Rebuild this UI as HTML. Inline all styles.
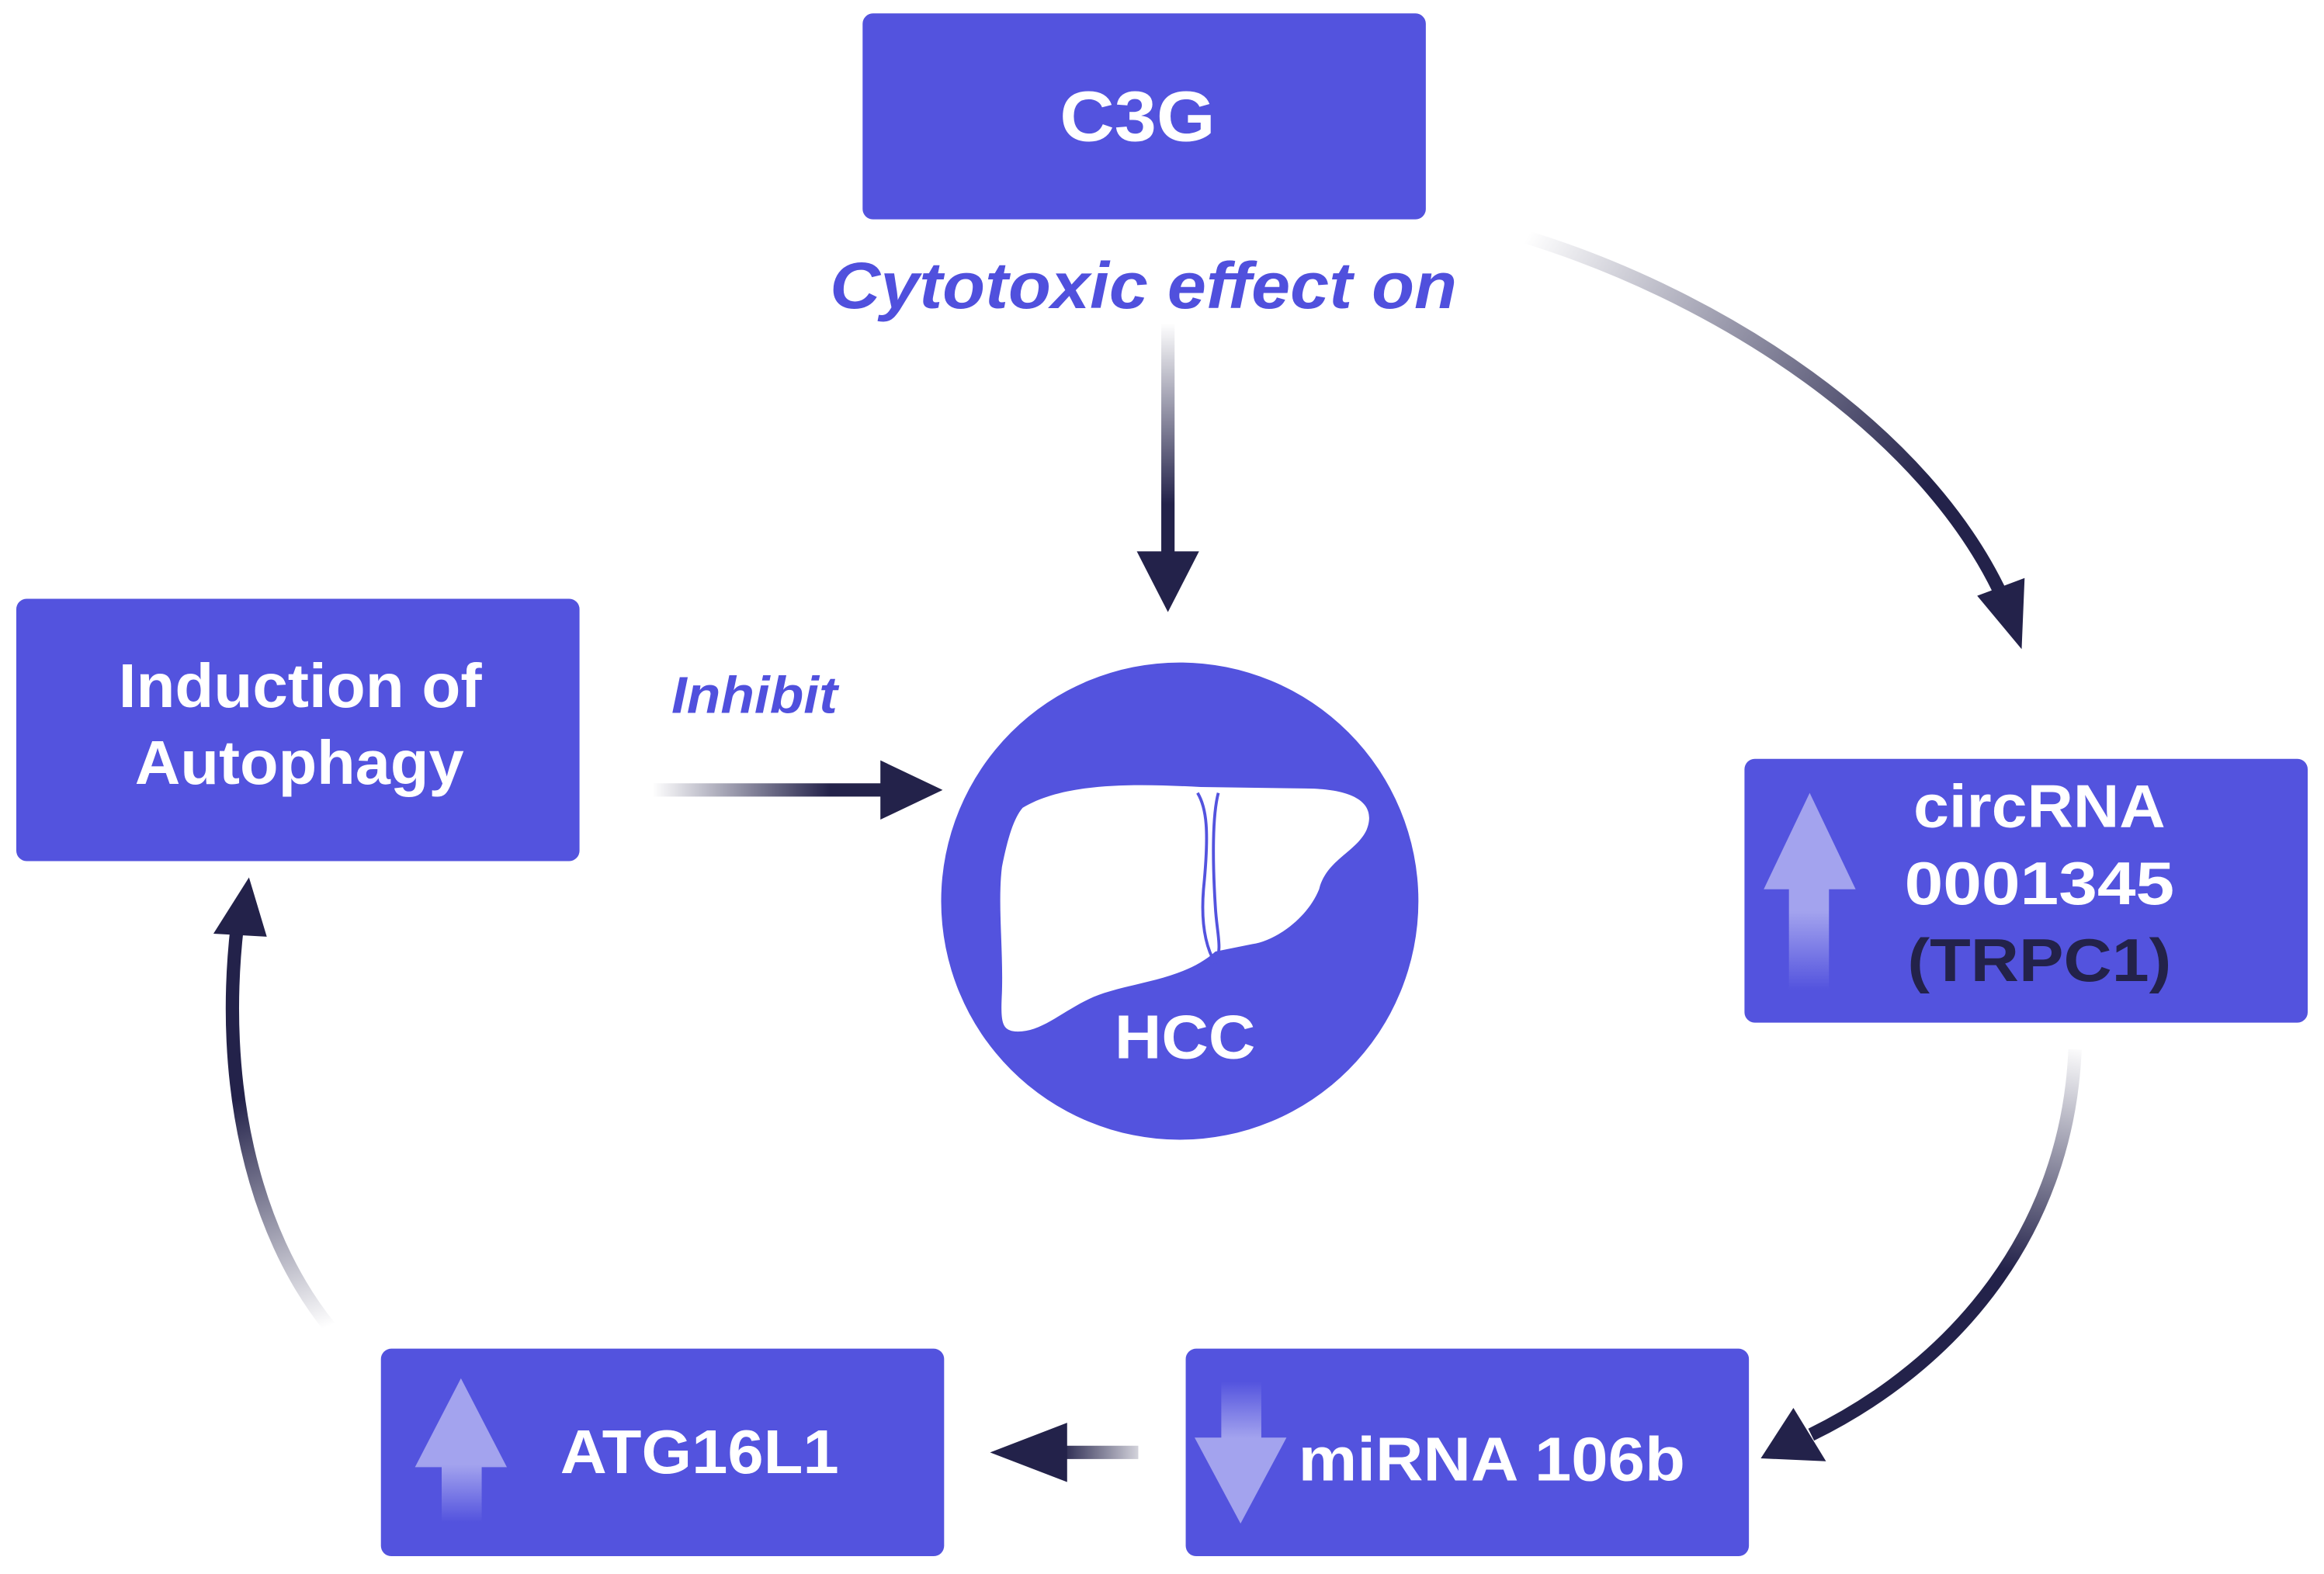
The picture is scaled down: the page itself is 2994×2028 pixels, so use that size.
<!DOCTYPE html>
<html><head><meta charset="utf-8"><style>html,body{margin:0;padding:0;background:#fff}svg{display:block}</style></head>
<body>
<svg width="2994" height="2028" viewBox="0 0 1568 1062" xmlns="http://www.w3.org/2000/svg" font-family="Liberation Sans, sans-serif">
<defs>
<linearGradient id="gA" gradientUnits="userSpaceOnUse" x1="1030" y1="160" x2="1300" y2="330"><stop offset="0" stop-color="#23224a" stop-opacity="0"/><stop offset="1" stop-color="#23224a"/></linearGradient>
<linearGradient id="gB" gradientUnits="userSpaceOnUse" x1="1400" y1="705" x2="1370" y2="860"><stop offset="0" stop-color="#23224a" stop-opacity="0"/><stop offset="1" stop-color="#23224a"/></linearGradient>
<linearGradient id="gC" gradientUnits="userSpaceOnUse" x1="222" y1="895" x2="165" y2="740"><stop offset="0" stop-color="#23224a" stop-opacity="0"/><stop offset="1" stop-color="#23224a"/></linearGradient>
<linearGradient id="gD" gradientUnits="userSpaceOnUse" x1="788" y1="218" x2="788" y2="340"><stop offset="0" stop-color="#23224a" stop-opacity="0"/><stop offset="1" stop-color="#23224a"/></linearGradient>
<linearGradient id="gE" gradientUnits="userSpaceOnUse" x1="440" y1="0" x2="560" y2="0"><stop offset="0" stop-color="#23224a" stop-opacity="0"/><stop offset="1" stop-color="#23224a"/></linearGradient>
<linearGradient id="gF" gradientUnits="userSpaceOnUse" x1="768" y1="0" x2="715" y2="0"><stop offset="0" stop-color="#23224a" stop-opacity="0.2"/><stop offset="1" stop-color="#23224a"/></linearGradient>
<linearGradient id="up1" x1="0" y1="1" x2="0" y2="0"><stop offset="0" stop-color="#a3a3ee" stop-opacity="0"/><stop offset="0.4" stop-color="#a3a3ee"/><stop offset="1" stop-color="#a3a3ee"/></linearGradient>
<linearGradient id="dn1" x1="0" y1="0" x2="0" y2="1"><stop offset="0" stop-color="#a3a3ee" stop-opacity="0"/><stop offset="0.4" stop-color="#a3a3ee"/><stop offset="1" stop-color="#a3a3ee"/></linearGradient>
</defs>

<rect x="582" y="9" width="380" height="139" rx="7" fill="#5353de"/>
<text x="715" y="95" font-size="48" font-weight="bold" fill="#fff" textLength="105" lengthAdjust="spacingAndGlyphs">C3G</text>
<text x="560" y="208" font-size="44" font-weight="bold" font-style="italic" fill="#5050dd" textLength="423" lengthAdjust="spacingAndGlyphs">Cytotoxic effect on</text>

<rect x="11" y="404" width="380" height="177" rx="7" fill="#5353de"/>
<text x="80" y="477" font-size="42" font-weight="bold" fill="#fff" textLength="245" lengthAdjust="spacingAndGlyphs">Induction of</text>
<text x="91" y="529" font-size="42" font-weight="bold" fill="#fff" textLength="222" lengthAdjust="spacingAndGlyphs">Autophagy</text>
<text x="453" y="481" font-size="35" font-weight="bold" font-style="italic" fill="#5050dd" textLength="112" lengthAdjust="spacingAndGlyphs">Inhibit</text>

<rect x="1177" y="512" width="380" height="178" rx="7" fill="#5353de"/>
<path d="M1221 535 L1252 600 L1234 600 L1234 668 L1207 668 L1207 600 L1190 600 Z" fill="url(#up1)"/>
<text x="1291" y="558" font-size="41" font-weight="bold" fill="#fff" textLength="170" lengthAdjust="spacingAndGlyphs">circRNA</text>
<text x="1285" y="610" font-size="41" font-weight="bold" fill="#fff" textLength="182" lengthAdjust="spacingAndGlyphs">0001345</text>
<text x="1287" y="662" font-size="41" font-weight="bold" fill="#23224a" textLength="178" lengthAdjust="spacingAndGlyphs">(TRPC1)</text>

<rect x="800" y="910" width="380" height="140" rx="7" fill="#5353de"/>
<path d="M837 1028 L868 970 L851 970 L851 932 L824 932 L824 970 L806 970 Z" fill="url(#dn1)"/>
<text x="876" y="999" font-size="42" font-weight="bold" fill="#fff" textLength="261" lengthAdjust="spacingAndGlyphs">miRNA 106b</text>

<rect x="257" y="910" width="380" height="140" rx="7" fill="#5353de"/>
<path d="M311 930 L342 990 L325 990 L325 1027 L298 1027 L298 990 L280 990 Z" fill="url(#up1)"/>
<text x="378" y="994" font-size="42" font-weight="bold" fill="#fff" textLength="188" lengthAdjust="spacingAndGlyphs">ATG16L1</text>

<circle cx="796" cy="608" r="161" fill="#5353de"/>
<path d="M690 545 C720 527 770 529 810 531 L880 532 C910 532 930 540 922 560 C915 575 895 580 890 600 C882 620 860 635 845 637 L820 642 C800 660 770 662 745 670 C720 678 705 697 685 696 C676 695 675 690 676 670 C677 640 673 610 676 585 C680 565 684 552 690 545 Z" fill="#fff"/>
<path d="M808 535 C814 545 816 560 812 600 C810 625 814 640 820 650 M822 535 C818 550 818 580 820 612 C821 630 825 640 820 650" stroke="#5353de" stroke-width="2" fill="none"/>
<text x="752" y="714" font-size="42" font-weight="bold" fill="#fff" textLength="95" lengthAdjust="spacingAndGlyphs">HCC</text>

<line x1="788" y1="218" x2="788" y2="378" stroke="url(#gD)" stroke-width="9"/>
<path d="M767 372 L809 372 L788 413 Z" fill="#23224a"/>

<line x1="440" y1="533" x2="598" y2="533" stroke="url(#gE)" stroke-width="9"/>
<path d="M594 513 L636 533 L594 553 Z" fill="#23224a"/>

<line x1="768" y1="980" x2="715" y2="980" stroke="url(#gF)" stroke-width="9"/>
<path d="M720 960 L668 980 L720 1000 Z" fill="#23224a"/>

<path d="M1030 160 C1160 200 1300 290 1352 405" stroke="url(#gA)" stroke-width="9" fill="none"/>
<path d="M1334 402 L1366 390 L1364 438 Z" fill="#23224a"/>

<path d="M1400 708 C1395 830 1320 920 1222 968" stroke="url(#gB)" stroke-width="9" fill="none"/>
<path d="M1210 950 L1232 986 L1188 984 Z" fill="#23224a"/>

<path d="M222 895 C170 830 148 730 160 625" stroke="url(#gC)" stroke-width="9" fill="none"/>
<path d="M144 630 L180 632 L168 592 Z" fill="#23224a"/>
</svg>
</body></html>
